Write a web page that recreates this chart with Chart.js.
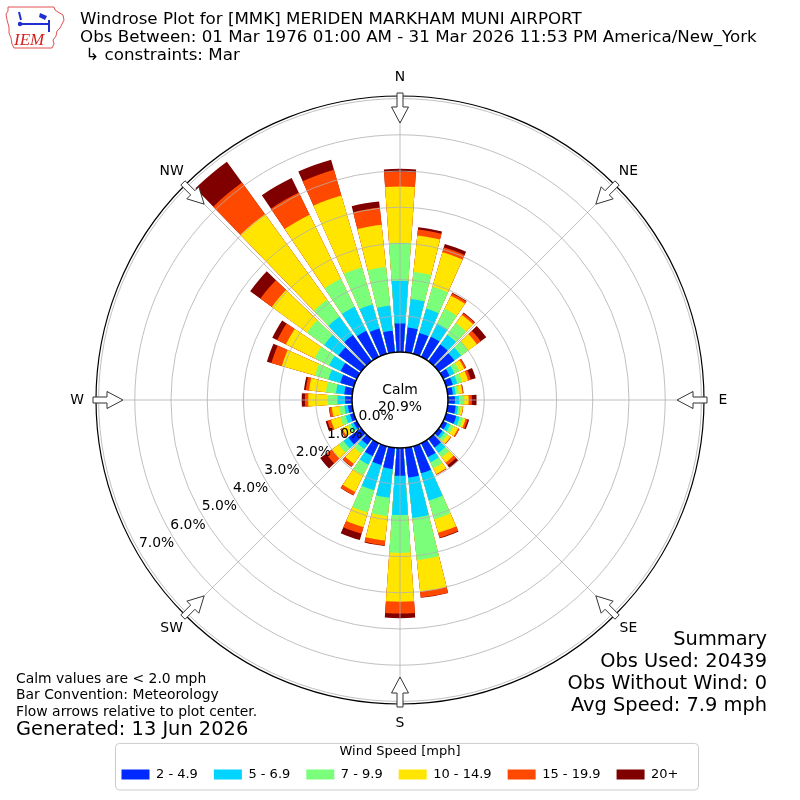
<!DOCTYPE html>
<html>
<head>
<meta charset="utf-8">
<title>Windrose Plot for [MMK] MERIDEN MARKHAM MUNI AIRPORT</title>
<script src="https://cdn.jsdelivr.net/npm/chart.js@4.4.1/dist/chart.umd.min.js"></script>
<style>
  html, body { margin: 0; padding: 0; background: #fff; }
  #marco { position: relative; width: 800px; height: 800px; }
</style>
</head>
<body>
<div id="marco"><canvas id="lienzo"></canvas></div>
<script>
"use strict";

// Direcciones (grados desde el norte, de donde sopla el viento)
const direcciones = [0, 10, 20, 30, 40, 50, 60, 70, 80, 90, 100, 110, 120, 130, 140, 150, 160, 170,
  180, 190, 200, 210, 220, 230, 240, 250, 260, 270, 280, 290, 300, 310, 320, 330, 340, 350];

const rumbos = ["N", "NE", "E", "SE", "S", "SW", "W", "NW"];
const angulosRumbo = [0, 45, 90, 135, 180, 225, 270, 315];

const rangos = ["2 - 4.9", "5 - 6.9", "7 - 9.9", "10 - 14.9", "15 - 19.9", "20+"];
const colores = ["#002aff", "#00d4ff", "#7bff7b", "#ffe500", "#ff4800", "#800000"];

// Frecuencia (%) de cada rango de velocidad por dirección
const v2a5 = [0.79, 0.69, 0.60, 0.62, 0.57, 0.53, 0.20, 0.19, 0.14, 0.19, 0.22, 0.29, 0.12, 0.12, 0.30, 0.43, 0.78, 0.83,
  0.77, 0.59, 0.54, 0.40, 0.20, 0.44, 0.10, 0.11, 0.12, 0.19, 0.22, 0.39, 0.50, 0.77, 0.89, 0.80, 0.73, 0.60];
const v5a7 = [1.18, 0.79, 0.70, 0.40, 0.33, 0.23, 0.15, 0.13, 0.08, 0.12, 0.07, 0.10, 0.10, 0.08, 0.18, 0.16, 0.78, 1.12,
  1.08, 0.80, 0.73, 0.26, 0.15, 0.16, 0.08, 0.13, 0.10, 0.21, 0.23, 0.34, 0.35, 0.49, 0.63, 0.74, 0.69, 0.70];
const v7a10 = [1.05, 0.75, 0.63, 0.46, 0.40, 0.24, 0.15, 0.14, 0.09, 0.14, 0.07, 0.10, 0.10, 0.10, 0.15, 0.18, 0.54, 1.17,
  1.05, 0.51, 0.64, 0.32, 0.15, 0.17, 0.09, 0.15, 0.14, 0.27, 0.28, 0.39, 0.45, 0.59, 0.58, 0.86, 1.07, 1.07];
const v10a15 = [1.55, 1.01, 0.99, 0.40, 0.28, 0.30, 0.15, 0.17, 0.10, 0.12, 0.06, 0.07, 0.14, 0.10, 0.18, 0.18, 0.39, 0.88,
  1.35, 0.68, 0.42, 0.52, 0.35, 0.23, 0.18, 0.27, 0.21, 0.54, 0.47, 0.95, 0.88, 1.20, 2.92, 1.97, 2.06, 1.17];
const v15a20 = [0.41, 0.17, 0.14, 0.07, 0.06, 0.13, 0.05, 0.08, 0.02, 0.09, 0.01, 0.06, 0.04, 0.02, 0.09, 0.02, 0.14, 0.16,
  0.32, 0.13, 0.19, 0.10, 0.10, 0.20, 0.05, 0.10, 0.07, 0.09, 0.09, 0.30, 0.27, 0.39, 1.08, 0.68, 0.74, 0.48];
const v20mas = [0.08, 0.06, 0.10, 0.02, 0.02, 0.19, 0.01, 0.14, 0.01, 0.13, 0.00, 0.04, 0.00, 0.00, 0.09, 0.00, 0.02, 0.01,
  0.13, 0.02, 0.18, 0.01, 0.01, 0.20, 0.01, 0.05, 0.01, 0.09, 0.05, 0.13, 0.15, 0.35, 0.71, 0.45, 0.29, 0.17];

const marcasRadiales = [0, 1, 2, 3, 4, 5, 6, 7];
const calma = "20.9%";

const titulo = [
  "Windrose Plot for [MMK] MERIDEN MARKHAM MUNI AIRPORT",
  "Obs Between: 01 Mar 1976 01:00 AM - 31 Mar 2026 11:53 PM America/New_York",
  " \u21B3 constraints: Mar",
];
const notas = ["Calm values are < 2.0 mph", "Bar Convention: Meteorology", "Flow arrows relative to plot center."];
const generado = "Generated: 13 Jun 2026";
const resumen = ["Summary", "Obs Used: 20439", "Obs Without Wind: 0", "Avg Speed: 7.9 mph"];

/* ── Escala ───────────────────────────── */
const ANCHO_BARRA = 8;   // grados de cada barra (sector de 10)
const R_MIN = -1.326;    // deja hueco para el círculo de calma
const R_MAX = 7.072;

// polarArea no apila: cada anillo lleva el acumulado y se dibuja debajo del anterior
const series = [v2a5, v5a7, v7a10, v10a15, v15a20, v20mas];
const acumulados = series.map((_, k) =>
  direcciones.map((_, i) => series.slice(0, k + 1).reduce((s, arr) => s + arr[i], 0)));

// cada dirección va seguida de un hueco vacío (radio cero)
const etiquetas = direcciones.flatMap((d) => [d + "\u00B0", ""]);

const rad = (g) => (g * Math.PI) / 180;

// punto a una distancia del centro sobre un rumbo, usando la escala radial
const polar = (escala, rumbo, dist) =>
  escala.getPointPosition(0, dist, rad(rumbo) - escala.getIndexAngle(0));

function flecha(ctx, escala, rumbo) {
  const R = escala.drawingArea;
  const forma = [[R + 3, -3], [R - 11, -3], [R - 11, -8.5], [R - 27, 0], [R - 11, 8.5], [R - 11, 3], [R + 3, 3]];
  const a = rad(rumbo - 90);
  ctx.beginPath();
  forma.forEach(([d, lado], i) => {
    const p = polar(escala, rumbo, d);
    const x = p.x - Math.sin(a) * lado;
    const y = p.y + Math.cos(a) * lado;
    if (i === 0) ctx.moveTo(x, y);
    else ctx.lineTo(x, y);
  });
  ctx.closePath();
  ctx.fillStyle = "#fff";
  ctx.fill();
  ctx.strokeStyle = "#333";
  ctx.lineWidth = 1;
  ctx.stroke();
}

function logo(ctx) {
  const contorno = [[8, 7], [54, 7], [55, 10], [58, 12], [63, 15], [64, 20], [62, 24], [60, 28], [57, 31], [56, 36],
    [53, 40], [54, 44], [52, 48], [14, 48], [12, 44], [11, 38], [9, 33], [9, 27], [7, 20], [6, 14], [8, 11]];
  ctx.save();
  ctx.strokeStyle = "#e05050";
  ctx.lineWidth = 1;
  ctx.beginPath();
  contorno.forEach(([x, y], i) => (i ? ctx.lineTo(x, y) : ctx.moveTo(x, y)));
  ctx.closePath();
  ctx.stroke();
  ctx.strokeStyle = "#1f2fd0";
  ctx.fillStyle = "#1f2fd0";
  ctx.lineWidth = 2;
  ctx.beginPath();
  ctx.moveTo(21, 24); ctx.lineTo(49, 24);
  ctx.moveTo(49, 20); ctx.lineTo(49, 32);
  ctx.moveTo(19, 12); ctx.lineTo(21, 20);
  ctx.stroke();
  ctx.beginPath();
  ctx.arc(20, 24, 2.2, 0, 2 * Math.PI);
  ctx.fill();
  ctx.beginPath();
  ctx.moveTo(40, 13); ctx.lineTo(47, 16); ctx.lineTo(45, 20); ctx.lineTo(39, 17);
  ctx.closePath();
  ctx.fill();
  ctx.fillStyle = "#d42020";
  ctx.font = 'italic 17px "Liberation Serif", serif';
  ctx.textAlign = "left";
  ctx.textBaseline = "alphabetic";
  ctx.fillText("IEM", 14, 45);
  ctx.restore();
}

const decoracion = {
  id: "decoracion",
  afterDatasetsDraw(chart) {
    const ctx = chart.ctx;
    const r = chart.scales.r;
    const rCalma = r.getDistanceFromCenterForValue(0);
    ctx.save();
    ctx.fillStyle = "#fff";
    ctx.beginPath();
    ctx.arc(r.xCenter, r.yCenter, rCalma, 0, 2 * Math.PI);
    ctx.fill();
    // radios cada 45 grados, encima de las barras
    ctx.strokeStyle = "#b0b0b0";
    ctx.lineWidth = 0.8;
    angulosRumbo.forEach((g) => {
      const p0 = polar(r, g, rCalma);
      const p1 = polar(r, g, r.drawingArea);
      ctx.beginPath();
      ctx.moveTo(p0.x, p0.y);
      ctx.lineTo(p1.x, p1.y);
      ctx.stroke();
    });
    ctx.restore();
  },
  afterDraw(chart) {
    const ctx = chart.ctx;
    const r = chart.scales.r;
    const rCalma = r.getDistanceFromCenterForValue(0);
    ctx.save();

    ctx.strokeStyle = "#000";
    ctx.lineWidth = 1.2;
    ctx.beginPath();
    ctx.arc(r.xCenter, r.yCenter, r.drawingArea, 0, 2 * Math.PI);
    ctx.stroke();
    ctx.lineWidth = 1.5;
    ctx.beginPath();
    ctx.arc(r.xCenter, r.yCenter, rCalma, 0, 2 * Math.PI);
    ctx.stroke();

    angulosRumbo.forEach((g) => flecha(ctx, r, g));

    ctx.fillStyle = "#000";
    ctx.textAlign = "center";
    ctx.textBaseline = "middle";
    ctx.font = '13.9px "DejaVu Sans"';
    rumbos.forEach((txt, i) => {
      const p = polar(r, angulosRumbo[i], r.drawingArea + 19);
      ctx.fillText(txt, p.x, p.y);
    });

    // etiquetas del eje radial, en horizontal hacia el WSW
    marcasRadiales.forEach((v) => {
      const p = polar(r, 240, r.getDistanceFromCenterForValue(v));
      ctx.fillText(v.toFixed(1) + "%", p.x + 17.6, p.y - 7.7);
    });

    ctx.fillText("Calm", r.xCenter, r.yCenter - 10);
    ctx.fillText(calma, r.xCenter, r.yCenter + 7);

    ctx.textAlign = "left";
    ctx.font = '16.7px "DejaVu Sans"';
    titulo.forEach((t, i) => ctx.fillText(t, 80, 20 + i * 18));

    ctx.font = '13.9px "DejaVu Sans"';
    notas.forEach((t, i) => ctx.fillText(t, 16, 679 + i * 16.5));
    ctx.font = '19.4px "DejaVu Sans"';
    ctx.fillText(generado, 16, 730);

    ctx.textAlign = "right";
    resumen.forEach((t, i) => ctx.fillText(t, 767, 640 + i * 22));

    // marco de la leyenda
    const cajas = chart.legend.legendHitBoxes;
    const izq = Math.min(...cajas.map((c) => c.left)) - 6;
    const der = Math.max(...cajas.map((c) => c.left + c.width)) + 20;
    ctx.strokeStyle = "#cccccc";
    ctx.lineWidth = 1;
    ctx.beginPath();
    ctx.roundRect(izq, chart.legend.top + 4, der - izq, chart.legend.bottom - chart.legend.top - 5, 4);
    ctx.stroke();

    ctx.restore();
    logo(ctx);
  },
};

Chart.defaults.font.family = '"DejaVu Sans", sans-serif';
Chart.defaults.color = "#000";

const lienzo = document.getElementById("lienzo").getContext("2d");

const grafico = new Chart(lienzo, {
  type: "polarArea",
  data: {
    labels: etiquetas,
    datasets: rangos.map((rango, k) => ({
      label: rango,
      data: acumulados[k].flatMap((v) => [v, R_MIN]),
      backgroundColor: colores[k],
      borderWidth: 0,
      angle: (c) => (c.dataIndex % 2 === 0 ? ANCHO_BARRA : 10 - ANCHO_BARRA),
    })),
  },
  options: {
    responsive: true,
    maintainAspectRatio: false,
    animation: false,
    events: [],
    layout: { padding: { left: 96, right: 96, top: 62, bottom: 9 } },
    scales: {
      r: {
        min: R_MIN,
        max: R_MAX,
        bounds: "data",
        startAngle: -ANCHO_BARRA / 2,
        afterBuildTicks: (escala) => {
          escala.ticks = marcasRadiales.map((v) => ({ value: v }));
        },
        ticks: { display: false },
        grid: { circular: true, color: "#b0b0b0", lineWidth: 0.8, z: 1 },
        angleLines: { display: false },
        pointLabels: { display: false },
      },
    },
    plugins: {
      tooltip: { enabled: false },
      legend: {
        position: "bottom",
        onClick: null,
        title: {
          display: true,
          text: "Wind Speed [mph]",
          font: { size: 13 },
          padding: { top: 6, bottom: -9 },
        },
        labels: {
          boxWidth: 28,
          boxHeight: 10,
          padding: 16,
          font: { size: 13 },
          generateLabels: (chart) =>
            chart.data.datasets.map((ds, i) => ({
              text: ds.label,
              fillStyle: ds.backgroundColor,
              strokeStyle: ds.backgroundColor,
              lineWidth: 0,
              hidden: false,
              datasetIndex: i,
            })),
        },
      },
    },
  },
  plugins: [decoracion],
});
</script>
</body>
</html>
